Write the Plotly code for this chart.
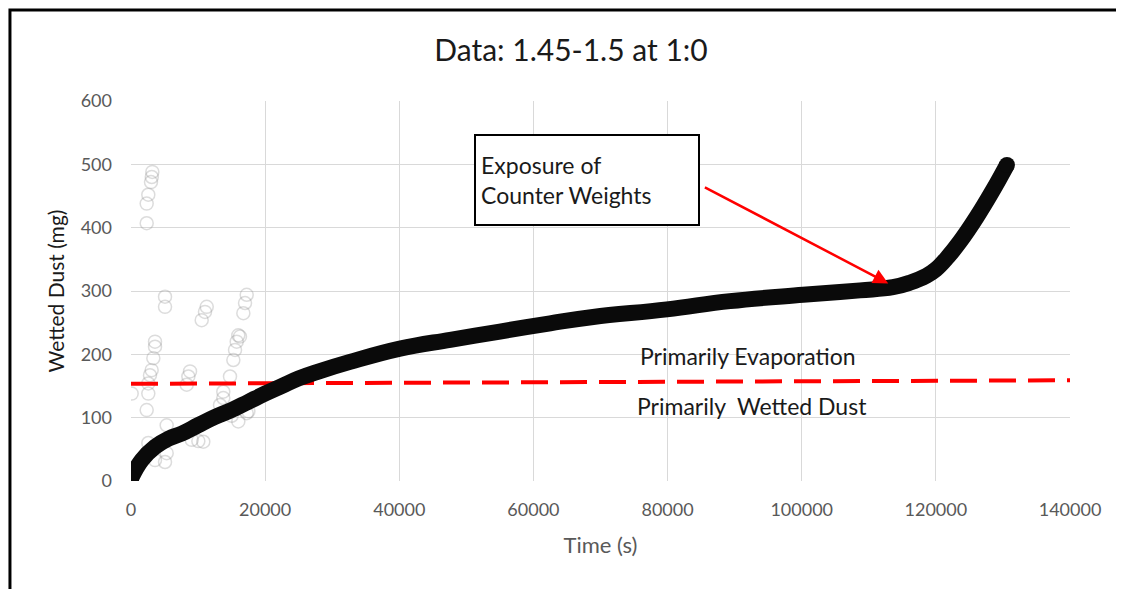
import plotly.graph_objects as go

# Main wetted-dust curve (time s, mass mg)
time_s = [0, 1600, 3600, 5600, 7600, 10000, 12500, 15000, 17500, 20000, 22500,
          25000, 27700, 32650, 40100, 47600, 55000, 62500, 68900, 79900, 89300,
          100200, 108700, 113600, 116100, 118600, 120000, 121800, 123600,
          126100, 128500, 130600]
dust_mg = [4, 33, 54, 67, 75, 88, 101, 112, 125, 138, 150,
           162, 172, 188, 209, 223, 236, 249, 259, 271, 284,
           294, 301, 306, 313, 324, 334, 354, 378,
           417, 459, 499]

# Faint outlier points (grey open circles)
out_t = [100, 700, 2340, 2340, 2580, 2980, 3180, 3100,
         2340, 2580, 2580, 2830, 3080, 3330, 3580, 3580,
         2580, 3580, 5070, 5320, 5320, 5070, 5070,
         8300, 8550, 8800, 9050, 10040, 10540, 11030, 11290, 10780,
         13270, 13760, 13760, 14760, 15260, 15510, 15760, 16000, 16250,
         16750, 17000, 17250, 16000, 17250, 17500, 15000, 6300]
out_v = [138, 20, 407, 438, 452, 472, 488, 480,
         112, 138, 154, 167, 175, 194, 212, 220,
         60, 33, 30, 44, 88, 275, 291,
         152, 165, 173, 65, 63, 254, 267, 275, 62,
         120, 131, 141, 165, 191, 207, 220, 230, 228,
         265, 281, 294, 94, 107, 110, 103, 70]

# Boundary line (dashed red)
bound_t = [0, 140000]
bound_v = [153.5, 159]

x_ticks = [0, 20000, 40000, 60000, 80000, 100000, 120000, 140000]
y_ticks = [0, 100, 200, 300, 400, 500, 600]

FONT = "Lato"
W, H = 1116, 581

fig = go.Figure()

fig.add_trace(go.Scatter(
    x=out_t, y=out_v, mode="markers",
    marker=dict(symbol="circle-open", size=13, color="rgba(140,140,140,0.3)",
                line=dict(width=1.5)),
    showlegend=False, hoverinfo="skip"))

fig.add_trace(go.Scatter(
    x=bound_t, y=bound_v, mode="lines",
    line=dict(color="#ff0000", width=4, dash="27px,12px"),
    showlegend=False))

fig.add_trace(go.Scatter(
    x=time_s, y=dust_mg, mode="lines", line_shape="spline",
    line=dict(color="#0a0a0a", width=16, smoothing=1.2),
    showlegend=False))
fig.add_trace(go.Scatter(
    x=[time_s[0], time_s[-1]], y=[dust_mg[0], dust_mg[-1]], mode="markers",
    marker=dict(color="#0a0a0a", size=16),
    showlegend=False))

fig.update_layout(
    width=W, height=H,
    margin=dict(l=123, r=54, t=93, b=108),
    paper_bgcolor="white", plot_bgcolor="white",
    font=dict(family=FONT, color="#595959"),
    title=dict(text="Data: 1.45-1.5 at 1:0", x=(571 - 8) / W, xanchor="center",
               xref="container", y=1 - 42 / H, yanchor="middle",
               font=dict(size=30, color="#1a1a1a", family=FONT)),
    xaxis=dict(range=[0, 140000], tickvals=x_ticks,
               ticktext=[str(v) for v in x_ticks],
               showgrid=True, gridcolor="#d9d9d9", gridwidth=1,
               zeroline=False, showline=False, ticks="",
               ticklabelstandoff=16,
               tickfont=dict(size=18, color="#595959"),
               title=dict(text="Time (s)", font=dict(size=22, color="#595959"),
                          standoff=18)),
    yaxis=dict(range=[0, 600], tickvals=y_ticks,
               showgrid=True, gridcolor="#d9d9d9", gridwidth=1,
               zeroline=False, showline=False, ticks="",
               ticklabelstandoff=18,
               tickfont=dict(size=18, color="#595959"),
               title=dict(text="Wetted Dust (mg)", font=dict(size=21, color="#1a1a1a"),
                          standoff=10)),
)

# Outer frame (left and top edges)
fig.add_shape(type="path", xref="paper", yref="paper",
              path="M -0.1289,-0.3 L -0.1289,1.2395 L 1.07,1.2395",
              line=dict(color="black", width=3))

# Callout box
fig.add_annotation(x=67920, y=475, xref="x", yref="y",
                   text="Exposure of<br>Counter Weights", showarrow=False,
                   align="left", xanchor="center", yanchor="middle",
                   width=212, height=78, borderpad=5,
                   bordercolor="black", borderwidth=2, bgcolor="white",
                   font=dict(size=23, color="#1a1a1a", family=FONT))
# Arrow
fig.add_annotation(x=112900, y=312, ax=85340, ay=465, xref="x", yref="y",
                   axref="x", ayref="y", text="", showarrow=True,
                   arrowhead=2, arrowsize=1.2, arrowwidth=2.5, arrowcolor="#ff0000")

fig.add_annotation(x=92000, y=197, xref="x", yref="y", text="Primarily Evaporation",
                   showarrow=False, font=dict(size=23, color="#1a1a1a", family=FONT))
fig.add_annotation(x=92600, y=118.5, xref="x", yref="y",
                   text="Primarily\u00a0 Wetted Dust",
                   showarrow=False, font=dict(size=23, color="#1a1a1a", family=FONT))

fig.write_html("out.html")
